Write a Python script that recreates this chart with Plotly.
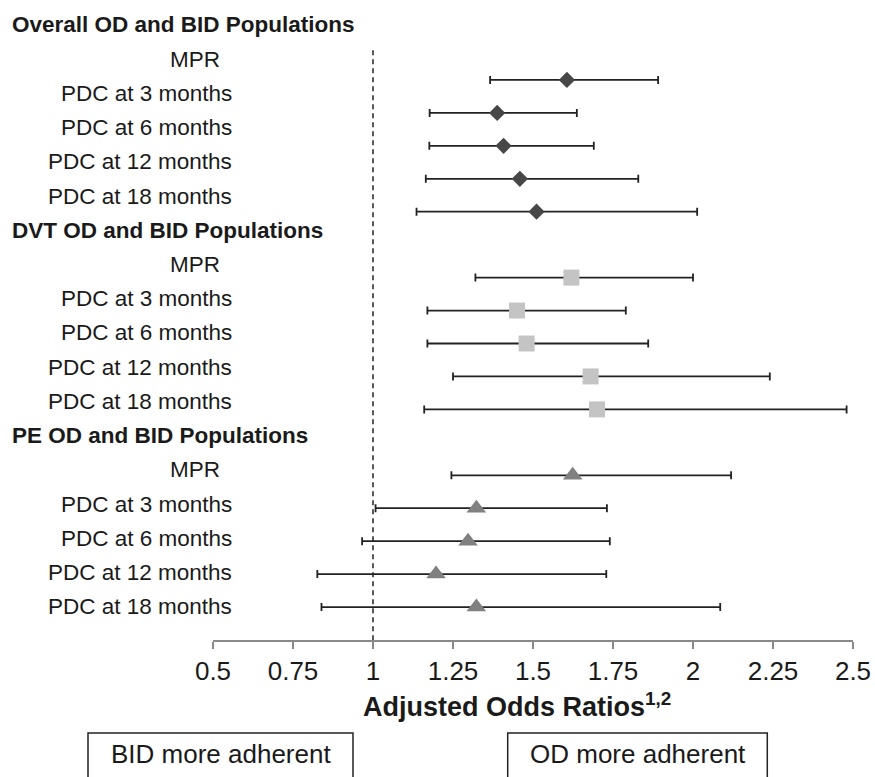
import plotly.graph_objects as go

# ---------------- data ----------------
groups = ["Overall OD and BID Populations", "DVT OD and BID Populations", "PE OD and BID Populations"]
measures = ["MPR", "PDC at 3 months", "PDC at 6 months", "PDC at 12 months", "PDC at 18 months"]

overall_or = [1.606, 1.388, 1.408, 1.459, 1.511]
overall_lo = [1.366, 1.177, 1.176, 1.165, 1.136]
overall_hi = [1.891, 1.637, 1.690, 1.829, 2.013]

dvt_or = [1.62, 1.45, 1.48, 1.68, 1.70]
dvt_lo = [1.32, 1.17, 1.17, 1.25, 1.16]
dvt_hi = [2.00, 1.79, 1.86, 2.24, 2.48]

pe_or = [1.624, 1.323, 1.297, 1.197, 1.323]
pe_lo = [1.245, 1.008, 0.966, 0.826, 0.839]
pe_hi = [2.119, 1.731, 1.740, 1.729, 2.085]

tick_vals = [0.5, 0.75, 1, 1.25, 1.5, 1.75, 2, 2.25, 2.5]
tick_text = ["0.5", "0.75", "1", "1.25", "1.5", "1.75", "2", "2.25", "2.5"]

x_title = "Adjusted Odds Ratios"
x_title_sup = "1,2"
box_left_text = "BID more adherent"
box_right_text = "OD more adherent"

# ---------------- styles ----------------
FONT = "Liberation Sans, Arial, Helvetica, sans-serif"
TXT = "#1a1a1a"
series = [
    (overall_or, overall_lo, overall_hi, "diamond", 12.5, "#474747"),
    (dvt_or, dvt_lo, dvt_hi, "square", 16, "#c4c4c4"),
    (pe_or, pe_lo, pe_hi, "triangle-up", 17, "#808080"),
]

W, H = 875, 777
PLOT_L, PLOT_T, PW, PH = 213, 47, 640, 593          # plot area in page pixels
ML, MT = PLOT_L, PLOT_T
MR, MB = W - ML - PW, H - MT - PH
Y_MAX = 18
SLOT = PH / Y_MAX


def px_x(px):
    return (px - PLOT_L) / PW


def px_y(py):
    return 1 - (py - PLOT_T) / PH


fig = go.Figure()
for g, (vals, lo, hi, sym, size, col) in enumerate(series):
    rows = [g * 6 + 1 + i for i in range(len(vals))]
    fig.add_trace(go.Scatter(
        x=vals, y=rows, mode="markers",
        marker=dict(symbol=sym, size=size, color=col, line=dict(width=0)),
        error_x=dict(type="data", symmetric=False,
                     array=[h - v for h, v in zip(hi, vals)],
                     arrayminus=[v - l for v, l in zip(vals, lo)],
                     color="#222222", thickness=1.8, width=4),
        showlegend=False, hoverinfo="x",
    ))

annotations = []
# label column: a uniform grid of its own (slightly taller spacing than the data rows)
lab_a, lab_b = -0.67, 1.039


def lab_y(j):
    return px_y(PLOT_T + SLOT * (lab_a + lab_b * j))


for g, name in enumerate(groups):
    idx = g * 6
    annotations.append(dict(text="<b>" + name + "</b>", xref="paper", yref="paper",
                            x=px_x(10), y=lab_y(idx), xanchor="left", yanchor="middle",
                            showarrow=False, font=dict(size=22.5, color=TXT, family=FONT)))
    for i, m in enumerate(measures):
        j = idx + 1 + i
        annotations.append(dict(text=m, xref="paper", yref="paper",
                                x=px_x(222 if m == "MPR" else 234), y=lab_y(j),
                                xanchor="right", yanchor="middle", showarrow=False,
                                font=dict(size=22.5, color=TXT, family=FONT)))

annotations.append(dict(text="<b>" + x_title + "<sup>" + x_title_sup + "</sup></b>",
                        xref="paper", yref="paper", x=px_x(361), y=px_y(705),
                        xanchor="left", yanchor="middle", showarrow=False,
                        font=dict(size=27, color=TXT, family=FONT)))
annotations.append(dict(text=box_left_text, xref="paper", yref="paper",
                        x=px_x(220.5), y=px_y(754), xanchor="center", yanchor="middle",
                        showarrow=False, font=dict(size=26, color=TXT, family=FONT)))
annotations.append(dict(text=box_right_text, xref="paper", yref="paper",
                        x=px_x(637.5), y=px_y(754), xanchor="center", yanchor="middle",
                        showarrow=False, font=dict(size=26, color=TXT, family=FONT)))

shapes = [
    dict(type="line", xref="x", yref="y", x0=1, x1=1, y0=0.1, y1=Y_MAX,
         line=dict(color="#222222", width=1.5, dash="5px,4px"), layer="below"),
    dict(type="rect", xref="paper", yref="paper", x0=px_x(88), x1=px_x(353),
         y0=px_y(733), y1=px_y(800), line=dict(color="#222222", width=1.5)),
    dict(type="rect", xref="paper", yref="paper", x0=px_x(507.7), x1=px_x(767.3),
         y0=px_y(733), y1=px_y(800), line=dict(color="#222222", width=1.5)),
]

fig.update_layout(
    width=W, height=H,
    margin=dict(l=ML, r=MR, t=MT, b=MB, pad=0, autoexpand=False),
    paper_bgcolor="white", plot_bgcolor="white",
    font=dict(family=FONT, color=TXT),
    xaxis=dict(range=[0.5, 2.5], tickmode="array", tickvals=tick_vals, ticktext=tick_text,
               automargin=False,
               showgrid=False, zeroline=False, showline=True, linecolor="#8a8a8a", linewidth=2,
               ticks="outside", ticklen=7, tickwidth=2, tickcolor="#8a8a8a",
               tickfont=dict(size=26, color=TXT, family=FONT)),
    yaxis=dict(range=[Y_MAX, 0], automargin=False, showgrid=False, zeroline=False,
               showline=False, showticklabels=False, ticks=""),
    annotations=annotations,
    shapes=shapes,
)

fig.write_html("out.html",
               config={"displayModeBar": False},
               post_script="document.body.style.margin='0';document.body.style.overflow='hidden';")
